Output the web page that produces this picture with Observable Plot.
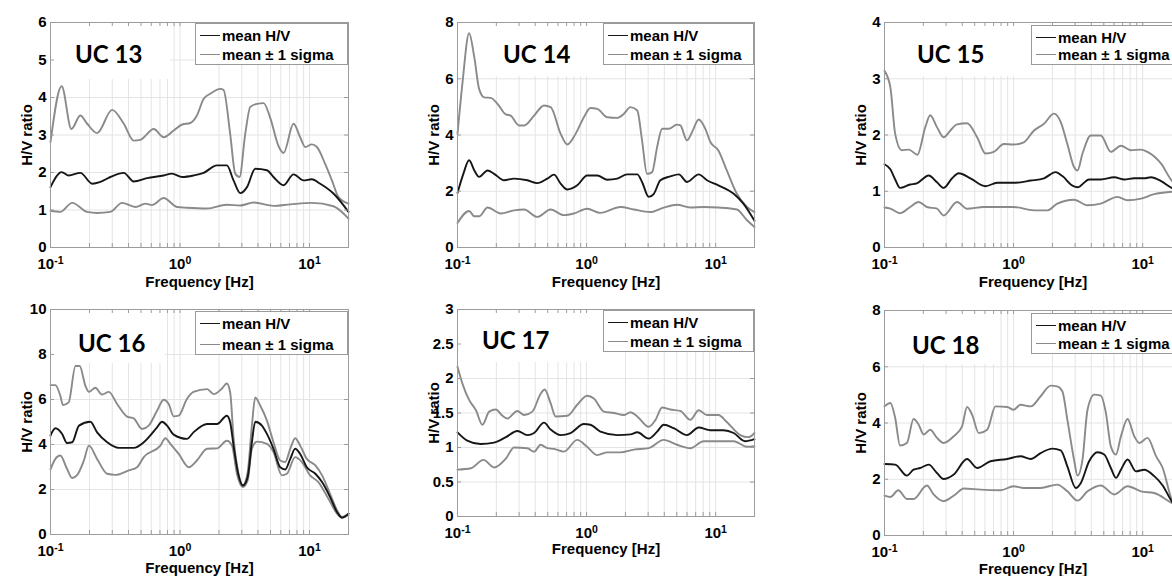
<!DOCTYPE html>
<html><head><meta charset="utf-8">
<script src="https://cdn.jsdelivr.net/npm/d3@7"></script>
<script src="https://cdn.jsdelivr.net/npm/@observablehq/plot@0.6"></script>
<style>
html,body{margin:0;padding:0;background:#fff;overflow:hidden;}
#root{position:relative;width:1172px;height:576px;overflow:hidden;background:#fff;}
.panel{position:absolute;}
.title{position:absolute;font-family:Lato,'Open Sans',sans-serif;font-weight:700;font-size:24px;line-height:24px;color:#000;white-space:nowrap;}
.legend{position:absolute;background:#fff;border:1px solid #9a9a9a;box-sizing:border-box;font-family:'Liberation Sans',Arial,sans-serif;font-weight:bold;font-size:15px;color:#000;}
.legend .row{position:absolute;left:4px;height:20px;display:flex;align-items:center;white-space:nowrap;}
.legend .swatch{width:20px;height:0;border-top:1.7px solid;margin-right:2px;}
</style></head><body><div id="root"></div>
<script>
// ---------- data (frequency [Hz], H/V ratio) ----------
const xTicks = [0.1, 1, 10];
const xTickExps = ["-1", "0", "1"];
const gridFreqs = [0.1,0.2,0.3,0.4,0.5,0.6,0.7,0.8,0.9,1,2,3,4,5,6,7,8,9,10,20];
const xDomain = [0.1, 20];

const uc13YTicks = [0,1,2,3,4,5,6];
const uc13Upper = [[0.1,2.81],[0.122,4.30],[0.145,3.16],[0.170,3.52],[0.192,3.30],[0.229,3.05],[0.299,3.67],[0.368,3.30],[0.439,2.85],[0.494,2.87],[0.627,3.16],[0.748,2.94],[0.893,3.12],[1.04,3.28],[1.20,3.32],[1.35,3.52],[1.52,3.96],[1.71,4.10],[2.05,4.23],[2.17,4.20],[2.44,3.03],[2.67,1.97],[2.88,1.88],[3.19,3.03],[3.49,3.75],[3.93,3.83],[4.42,3.85],[4.98,3.45],[5.77,2.70],[6.30,2.52],[7.53,3.30],[8.47,2.94],[9.27,2.68],[10.4,2.75],[11.4,2.68],[13.2,2.23],[14.9,1.79],[16.7,1.35],[20,1.17]];
const uc13Mean = [[0.1,1.61],[0.122,2.01],[0.138,1.92],[0.170,1.99],[0.210,1.70],[0.243,1.75],[0.290,1.88],[0.368,1.99],[0.439,1.76],[0.557,1.85],[0.748,1.92],[0.867,1.97],[1.04,1.88],[1.27,1.92],[1.52,1.99],[1.93,2.19],[2.30,2.19],[2.59,1.79],[2.92,1.45],[3.29,1.61],[3.81,2.10],[4.69,2.06],[5.27,1.88],[6.30,1.66],[7.53,1.95],[9.0,1.79],[10.4,1.82],[12.1,1.70],[15.3,1.44],[20,0.95]];
const uc13Lower = [[0.1,0.98],[0.119,0.95],[0.147,1.19],[0.192,0.95],[0.229,0.92],[0.290,0.95],[0.357,1.19],[0.453,1.08],[0.541,1.17],[0.608,1.13],[0.748,1.32],[0.948,1.08],[1.13,1.06],[1.62,1.04],[2.30,1.14],[2.92,1.12],[3.70,1.20],[5.27,1.11],[7.10,1.15],[10.4,1.19],[15.3,1.10],[20,0.77]];

const uc14YTicks = [0,2,4,6,8];
const uc14Upper = [[0.1,4.04],[0.109,5.8],[0.123,7.62],[0.135,6.76],[0.147,5.64],[0.161,5.34],[0.181,5.32],[0.204,5.11],[0.237,4.73],[0.258,4.69],[0.300,4.34],[0.328,4.34],[0.392,4.69],[0.468,5.05],[0.527,4.99],[0.630,4.04],[0.709,3.66],[0.822,4.04],[0.953,4.63],[1.07,4.96],[1.21,4.93],[1.45,4.63],[1.73,4.61],[1.94,4.75],[2.19,4.99],[2.47,4.87],[2.69,3.81],[2.94,2.62],[3.22,2.68],[3.52,3.57],[3.85,4.22],[4.33,4.22],[5.02,4.37],[5.33,4.34],[6.0,3.81],[6.56,4.10],[7.39,4.55],[8.32,4.22],[9.10,3.75],[10.5,3.45],[12.2,2.74],[14.6,1.91],[17.5,1.44],[20,1.26]];
const uc14Mean = [[0.1,1.94],[0.111,2.62],[0.123,3.10],[0.135,2.74],[0.147,2.51],[0.171,2.74],[0.192,2.62],[0.230,2.39],[0.274,2.45],[0.348,2.39],[0.415,2.29],[0.497,2.45],[0.559,2.59],[0.630,2.27],[0.709,2.06],[0.847,2.21],[1.01,2.56],[1.21,2.56],[1.45,2.41],[1.73,2.45],[2.06,2.60],[2.47,2.60],[2.69,2.33],[3.03,1.80],[3.32,1.91],[3.73,2.39],[4.46,2.53],[5.18,2.60],[6.0,2.33],[7.39,2.60],[8.57,2.39],[10.5,2.21],[13.8,1.91],[16.4,1.56],[20,0.95]];
const uc14Lower = [[0.1,0.87],[0.123,1.30],[0.135,1.11],[0.147,1.11],[0.171,1.42],[0.216,1.21],[0.274,1.32],[0.328,1.35],[0.415,1.09],[0.527,1.35],[0.668,1.15],[0.798,1.21],[1.01,1.38],[1.28,1.23],[1.83,1.44],[2.32,1.35],[3.12,1.26],[3.96,1.42],[5.02,1.52],[6.37,1.42],[8.07,1.44],[10.5,1.42],[14.6,1.35],[17.5,0.97],[20,0.73]];

const uc15YTicks = [0,1,2,3,4];
const uc15Upper = [[0.1,3.14],[0.111,2.85],[0.121,2.02],[0.136,1.73],[0.154,1.74],[0.180,1.65],[0.207,2.14],[0.226,2.35],[0.255,2.14],[0.287,1.96],[0.324,2.08],[0.365,2.19],[0.436,2.21],[0.522,1.96],[0.606,1.67],[0.703,1.70],[0.841,1.84],[1.0,1.83],[1.20,1.87],[1.44,2.08],[1.72,2.20],[2.06,2.38],[2.32,2.23],[2.61,1.84],[2.94,1.43],[3.13,1.37],[3.42,1.67],[3.97,1.99],[4.74,1.99],[5.67,1.70],[6.79,1.81],[8.11,1.73],[9.71,1.74],[10.9,1.70],[13.9,1.49],[16.8,1.19],[20,1.05]];
const uc15Mean = [[0.1,1.48],[0.111,1.39],[0.121,1.21],[0.132,1.06],[0.158,1.12],[0.178,1.14],[0.220,1.28],[0.255,1.16],[0.287,1.06],[0.334,1.23],[0.376,1.32],[0.463,1.23],[0.606,1.09],[0.746,1.15],[1.0,1.15],[1.36,1.19],[1.72,1.23],[2.12,1.34],[2.39,1.27],[2.86,1.10],[3.13,1.07],[3.85,1.21],[4.74,1.21],[6.02,1.25],[7.21,1.21],[8.61,1.23],[10.3,1.23],[11.6,1.25],[13.9,1.18],[16.8,1.06],[20,1.0]];
const uc15Lower = [[0.1,0.71],[0.111,0.69],[0.132,0.61],[0.158,0.72],[0.184,0.81],[0.213,0.72],[0.255,0.69],[0.287,0.57],[0.365,0.81],[0.436,0.69],[0.588,0.72],[1.0,0.72],[1.44,0.66],[1.83,0.66],[2.18,0.78],[2.94,0.85],[3.74,0.75],[4.74,0.78],[6.39,0.90],[7.64,0.84],[9.71,0.87],[12.3,0.95],[16.8,0.99],[20,1.0]];

const uc16YTicks = [0,2,4,6,8,10];
const uc16Upper = [[0.1,6.64],[0.109,6.64],[0.119,6.17],[0.125,5.75],[0.138,5.87],[0.156,7.49],[0.168,7.49],[0.186,6.61],[0.198,6.34],[0.222,6.52],[0.250,6.22],[0.282,6.34],[0.327,5.80],[0.390,5.24],[0.439,5.16],[0.509,4.69],[0.573,4.84],[0.665,5.50],[0.748,5.99],[0.818,5.80],[0.893,5.25],[0.977,5.28],[1.13,6.02],[1.27,6.34],[1.62,6.46],[1.82,6.24],[2.11,6.49],[2.30,6.71],[2.44,6.31],[2.59,4.32],[2.83,2.70],[3.06,2.18],[3.33,2.77],[3.59,4.84],[3.81,6.09],[4.17,5.72],[4.69,5.06],[5.27,4.10],[5.94,3.29],[6.49,3.22],[7.10,3.81],[7.75,4.28],[8.47,3.95],[9.53,3.36],[11.1,3.07],[12.5,2.63],[14.4,1.81],[16.3,1.08],[17.8,0.78],[20,0.93]];
const uc16Mean = [[0.1,4.40],[0.109,4.72],[0.123,4.47],[0.134,4.07],[0.147,4.10],[0.166,4.84],[0.203,5.01],[0.229,4.54],[0.274,4.10],[0.337,3.85],[0.439,3.85],[0.525,4.10],[0.665,4.76],[0.726,5.01],[0.794,4.84],[0.893,4.44],[1.13,4.25],[1.27,4.54],[1.62,4.91],[1.93,4.91],[2.30,5.28],[2.44,4.99],[2.59,3.95],[2.83,2.63],[3.06,2.18],[3.33,2.55],[3.59,4.10],[3.81,5.01],[4.29,4.84],[4.69,4.47],[5.27,3.81],[5.94,2.99],[6.49,2.89],[7.10,3.36],[7.75,3.81],[8.47,3.58],[9.53,2.99],[11.1,2.70],[12.5,2.33],[14.4,1.67],[16.3,1.00],[17.8,0.75],[20,0.93]];
const uc16Lower = [[0.1,2.89],[0.109,3.36],[0.119,3.51],[0.134,2.92],[0.147,2.51],[0.161,2.65],[0.181,3.29],[0.198,3.95],[0.229,3.36],[0.274,2.70],[0.317,2.65],[0.402,2.85],[0.466,2.99],[0.525,3.44],[0.705,3.95],[0.771,4.28],[0.842,4.03],[0.977,3.58],[1.17,2.99],[1.35,3.29],[1.62,3.81],[1.93,3.83],[2.30,4.17],[2.52,3.95],[2.75,2.70],[3.06,2.11],[3.33,2.40],[3.59,3.81],[3.93,4.13],[4.69,4.03],[5.27,3.66],[6.12,2.63],[6.69,2.70],[7.75,3.44],[8.73,3.22],[10.1,2.63],[11.7,2.33],[14.0,1.59],[16.3,0.93],[17.8,0.74],[20,0.88]];

const uc17YTicks = [0,0.5,1,1.5,2,2.5,3];
const uc17Upper = [[0.1,2.17],[0.109,1.93],[0.123,1.69],[0.139,1.54],[0.156,1.33],[0.176,1.52],[0.198,1.55],[0.223,1.46],[0.244,1.42],[0.291,1.53],[0.328,1.47],[0.380,1.52],[0.441,1.78],[0.473,1.84],[0.527,1.64],[0.576,1.45],[0.709,1.46],[0.847,1.62],[1.01,1.75],[1.14,1.71],[1.36,1.52],[1.63,1.50],[1.94,1.47],[2.19,1.51],[2.47,1.45],[3.03,1.30],[3.42,1.40],[3.85,1.58],[4.46,1.55],[5.33,1.53],[6.37,1.40],[7.39,1.54],[8.57,1.47],[10.5,1.47],[12.2,1.37],[15.5,1.18],[18.0,1.15],[20,1.21]];
const uc17Mean = [[0.1,1.22],[0.119,1.10],[0.151,1.05],[0.192,1.07],[0.237,1.15],[0.291,1.24],[0.348,1.18],[0.392,1.21],[0.468,1.36],[0.527,1.26],[0.630,1.18],[0.752,1.21],[0.953,1.34],[1.07,1.33],[1.28,1.23],[1.73,1.18],[2.19,1.19],[2.47,1.22],[3.03,1.13],[3.52,1.23],[3.96,1.33],[4.73,1.28],[6.0,1.18],[7.39,1.29],[9.10,1.25],[11.5,1.25],[13.8,1.21],[16.9,1.09],[20,1.12]];
const uc17Lower = [[0.1,0.68],[0.127,0.70],[0.159,0.82],[0.192,0.71],[0.237,0.84],[0.274,1.00],[0.348,0.99],[0.392,0.94],[0.441,1.04],[0.497,0.99],[0.559,0.98],[0.668,0.94],[0.847,1.11],[1.01,1.01],[1.21,0.89],[1.45,0.93],[1.83,0.93],[2.32,0.97],[3.03,0.99],[3.96,1.11],[5.02,1.04],[6.37,0.99],[8.07,1.09],[10.9,1.09],[13.8,1.09],[17.5,1.01],[20,1.02]];

const uc18YTicks = [0,2,4,6,8];
const uc18Upper = [[0.1,4.59],[0.111,4.71],[0.121,4.18],[0.132,3.20],[0.149,3.29],[0.168,4.14],[0.184,3.94],[0.201,3.59],[0.226,3.76],[0.255,3.47],[0.287,3.29],[0.344,3.53],[0.399,3.88],[0.436,4.57],[0.477,4.30],[0.538,3.64],[0.624,3.76],[0.724,4.59],[0.893,4.57],[1.0,4.47],[1.13,4.65],[1.36,4.59],[1.62,4.95],[1.94,5.33],[2.18,5.30],[2.39,5.12],[2.61,4.12],[2.94,2.70],[3.13,2.13],[3.42,2.70],[3.74,4.47],[4.21,5.01],[4.74,4.97],[5.19,4.36],[5.67,3.17],[6.21,2.88],[6.79,3.53],[7.64,4.14],[8.61,3.53],[9.42,3.29],[10.9,3.47],[12.7,2.82],[14.3,2.40],[16.8,1.28],[20,0.9]];
const uc18Mean = [[0.1,2.54],[0.121,2.52],[0.149,2.13],[0.168,2.34],[0.189,2.40],[0.220,2.52],[0.255,2.22],[0.287,2.01],[0.344,2.17],[0.436,2.72],[0.522,2.40],[0.662,2.64],[0.893,2.72],[1.13,2.82],[1.36,2.72],[1.62,2.93],[2.0,3.09],[2.32,3.03],[2.61,2.46],[3.03,1.69],[3.32,1.87],[3.85,2.64],[4.47,2.96],[5.04,2.88],[5.67,2.40],[6.21,2.05],[6.79,2.34],[7.64,2.70],[8.87,2.28],[10.3,2.34],[12.3,2.11],[14.3,1.78],[16.8,1.22],[20,0.9]];
const uc18Lower = [[0.1,1.42],[0.111,1.37],[0.128,1.61],[0.149,1.30],[0.168,1.30],[0.213,1.78],[0.240,1.46],[0.287,1.22],[0.354,1.46],[0.411,1.67],[0.554,1.63],[0.793,1.61],[1.0,1.75],[1.20,1.69],[1.62,1.69],[2.18,1.81],[2.61,1.57],[3.13,1.24],[3.74,1.57],[4.74,1.78],[6.02,1.46],[7.64,1.75],[9.71,1.57],[12.3,1.51],[16.8,1.16],[20,1.0]];

const titles = ["UC 13","UC 14","UC 15","UC 16","UC 17","UC 18"];
const legendLabels = ["mean H/V", "mean \u00b1 1 sigma"];

// ---------- layout & style ----------
const meanColor = "#161616", sigmaColor = "#8a8a8a", gridColor = "#e4e4e4", frameColor = "#9c9c9c";
const font = "'Liberation Sans', Arial, sans-serif";

const panels = [
  {title:titles[0], upper:uc13Upper, mean:uc13Mean, lower:uc13Lower, yTicks:uc13YTicks,
   left:0, top:0, width:390, height:290, m:[22,42,43,50], xlabOff:39,
   box:[51,23,119,56], titlePos:[75,42], legend:[195,23,153,42]},
  {title:titles[1], upper:uc14Upper, mean:uc14Mean, lower:uc14Lower, yTicks:uc14YTicks,
   left:390, top:0, width:390, height:290, m:[22,26,43,67], xlabOff:39,
   box:[82,23,131,53], titlePos:[113,42], legend:[213,23,151,42]},
  {title:titles[2], upper:uc15Upper, mean:uc15Mean, lower:uc15Lower, yTicks:uc15YTicks,
   left:780, top:0, width:420, height:290, m:[22,19,43,104], xlabOff:39,
   box:[112,23,139,53], titlePos:[137,42], legend:[251,25,150,40]},
  {title:titles[3], upper:uc16Upper, mean:uc16Mean, lower:uc16Lower, yTicks:uc16YTicks,
   left:0, top:286, width:390, height:290, m:[23,42,42,50], xlabOff:38,
   box:[51,24,114,53], titlePos:[78,45], legend:[195,25,153,44]},
  {title:titles[4], upper:uc17Upper, mean:uc17Mean, lower:uc17Lower, yTicks:uc17YTicks,
   left:390, top:286, width:390, height:290, m:[23,26,60,67], xlabOff:37,
   box:[68,24,145,52], titlePos:[92,42], legend:[213,24,151,42]},
  {title:titles[5], upper:uc18Upper, mean:uc18Mean, lower:uc18Lower, yTicks:uc18YTicks,
   left:780, top:286, width:420, height:290, m:[24,19,41,104], xlabOff:38,
   box:[105,25,115,53], titlePos:[132,47], legend:[251,27,150,41]}
];

const root = document.getElementById("root");
const SVGNS = "http://www.w3.org/2000/svg";

for (const p of panels) {
  const [mt, mr, mb, ml] = p.m;
  const innerW = p.width - ml - mr, innerH = p.height - mt - mb;
  const lineOpts = (stroke) => ({x: d => d[0], y: d => d[1], stroke, strokeWidth: 1.9, curve: "monotone-x"});
  const textStyle = {fontSize: 15, fontWeight: "bold", fontFamily: font, fill: "#000"};
  const svg = Plot.plot({
    width: p.width, height: p.height,
    marginTop: mt, marginRight: mr, marginBottom: mb, marginLeft: ml,
    x: {type: "log", domain: xDomain},
    y: {domain: [0, p.yTicks[p.yTicks.length - 1]]},
    style: {background: "transparent", maxWidth: "none", overflow: "visible", fontFamily: font, fontSize: "15px", fontWeight: "bold", color: "#000"},
    marks: [
      Plot.ruleX(gridFreqs, {stroke: gridColor, strokeWidth: 1}),
      Plot.ruleY(p.yTicks, {stroke: gridColor, strokeWidth: 1}),
      Plot.line(p.upper, lineOpts(sigmaColor)),
      Plot.line(p.lower, lineOpts(sigmaColor)),
      Plot.line(p.mean, lineOpts(meanColor)),
      Plot.tickX(gridFreqs, {x: d => d, insetTop: innerH - 4, stroke: frameColor}),
      Plot.tickX(gridFreqs, {x: d => d, insetBottom: innerH - 4, stroke: frameColor}),
      Plot.tickY(p.yTicks, {y: d => d, insetRight: innerW - 4, stroke: frameColor}),
      Plot.tickY(p.yTicks, {y: d => d, insetLeft: innerW - 4, stroke: frameColor}),
      Plot.frame({stroke: frameColor}),
      Plot.axisX(xTicks, {...textStyle, tickSize: 0, tickPadding: 11, tickFormat: d => "10^" + xTickExps[xTicks.indexOf(d)],
        label: "Frequency [Hz]", labelAnchor: "center", labelOffset: p.xlabOff, labelArrow: "none"}),
      Plot.axisY(p.yTicks, {...textStyle, tickSize: 0, tickPadding: 4, tickFormat: d => String(d),
        label: "H/V ratio", labelAnchor: "center", labelOffset: 29, labelArrow: "none"})
    ]
  });

  // make every axis text bold 15px
  svg.querySelectorAll("text").forEach(t => {
    t.style.fontWeight = "bold";
    t.style.fontSize = "15px";
    t.style.fontFamily = font;
    t.style.fill = "#000";
  });

  // superscript exponents on x tick labels
  svg.querySelectorAll('[aria-label="x-axis tick label"] text').forEach(t => {
    const s = t.textContent;
    if (!s.startsWith("10^")) return;
    const exp = s.slice(3);
    t.textContent = "";
    const base = document.createElementNS(SVGNS, "tspan");
    base.textContent = "10";
    const sup = document.createElementNS(SVGNS, "tspan");
    sup.textContent = exp;
    sup.setAttribute("dy", "-0.5em");
    sup.style.fontSize = "10.5px";
    t.appendChild(base); t.appendChild(sup);
  });

  // white panel behind the panel title (hides grid, stays under the curves)
  const firstLine = svg.querySelector('[aria-label="line"]');
  if (firstLine) {
    const r = document.createElementNS(SVGNS, "rect");
    r.setAttribute("x", p.box[0]); r.setAttribute("y", p.box[1]);
    r.setAttribute("width", p.box[2]); r.setAttribute("height", p.box[3]);
    r.setAttribute("fill", "#fff");
    firstLine.parentNode.insertBefore(r, firstLine);
  }

  const div = document.createElement("div");
  div.className = "panel";
  div.style.left = p.left + "px"; div.style.top = p.top + "px";
  div.style.width = p.width + "px"; div.style.height = p.height + "px";
  div.appendChild(svg);

  const title = document.createElement("div");
  title.className = "title";
  title.style.left = p.titlePos[0] + "px"; title.style.top = p.titlePos[1] + "px";
  title.textContent = p.title;
  div.appendChild(title);

  const lg = document.createElement("div");
  lg.className = "legend";
  lg.style.left = p.legend[0] + "px"; lg.style.top = p.legend[1] + "px";
  lg.style.width = p.legend[2] + "px"; lg.style.height = p.legend[3] + "px";
  const rowTops = [1, p.legend[3] - 22];
  legendLabels.forEach((lab, i) => {
    const row = document.createElement("div");
    row.className = "row";
    row.style.top = rowTops[i] + "px";
    const sw = document.createElement("span");
    sw.className = "swatch";
    sw.style.borderTopColor = i === 0 ? meanColor : sigmaColor;
    const tx = document.createElement("span");
    tx.textContent = lab;
    row.appendChild(sw); row.appendChild(tx);
    lg.appendChild(row);
  });
  div.appendChild(lg);
  root.appendChild(div);
}
</script>
</body></html>
